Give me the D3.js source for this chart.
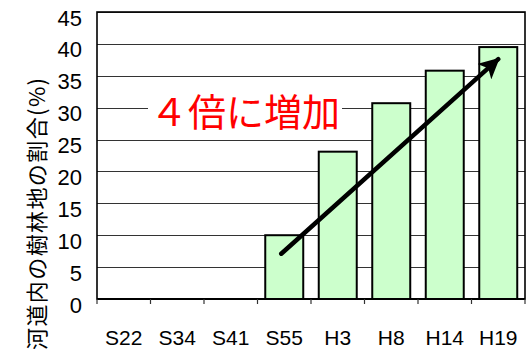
<!DOCTYPE html>
<html>
<head>
<meta charset="utf-8">
<script src="https://cdn.jsdelivr.net/npm/d3@7"></script>
<style>
  html, body { margin: 0; padding: 0; background: #fff; }
  svg { display: block; }
</style>
</head>
<body>
<svg id="chart" width="528" height="349"></svg>
<script>
// Survey years and share of forested area within the river channel (%)
const years = ["S22", "S34", "S41", "S55", "H3", "H8", "H14", "H19"];
const forestShare = [0, 0, 0, 10, 23.1, 30.7, 35.8, 39.5];
const yTicks = [0, 5, 10, 15, 20, 25, 30, 35, 40, 45];

// Trend arrow endpoints in data units: [category, value]
const trendStart = ["S55", 7.1];
const trendEnd = ["H19", 37.6];

const yTitle = "河道内の樹林地の割合(%)";
const note = "４倍に増加";

const svg = d3.select("#chart");
const margin = { left: 97, right: 3, top: 12, bottom: 50 };
const W = 528, H = 349;

const x = d3.scaleBand()
  .domain(years)
  .range([margin.left, W - margin.right])
  .paddingInner(0.29)
  .paddingOuter(0.145);

const xStep = d3.scaleBand().domain(years).range([margin.left, W - margin.right]);

const y = d3.scaleLinear().domain([0, 45]).range([H - margin.bottom, margin.top]);

const latin = "'Liberation Sans', Arial, sans-serif";
const cjk = "'Noto Sans CJK JP', sans-serif";

// Horizontal gridlines
svg.append("g")
  .selectAll("line")
  .data(yTicks)
  .join("line")
  .attr("x1", margin.left).attr("x2", W - margin.right)
  .attr("y1", d => Math.round(y(d)) + 0.5).attr("y2", d => Math.round(y(d)) + 0.5)
  .attr("stroke", "#333").attr("stroke-width", 1.2);

// Y tick labels
svg.append("g")
  .selectAll("text")
  .data(yTicks)
  .join("text")
  .attr("x", 82)
  .attr("y", d => y(d) + 6)
  .attr("text-anchor", "end")
  .attr("dominant-baseline", "central")
  .attr("font-family", latin)
  .attr("font-size", 22)
  .attr("fill", "#000")
  .text(d => d);

// Bars
svg.append("g")
  .selectAll("rect")
  .data(years.map((k, i) => ({ k, v: forestShare[i] })).filter(d => d.v > 0))
  .join("rect")
  .attr("x", d => x(d.k))
  .attr("y", d => y(d.v))
  .attr("width", x.bandwidth())
  .attr("height", d => y(0) - y(d.v))
  .attr("fill", "#ccffcc")
  .attr("stroke", "#000")
  .attr("stroke-width", 2);

// Plot frame
svg.append("rect")
  .attr("x", margin.left).attr("y", margin.top)
  .attr("width", W - margin.right - margin.left)
  .attr("height", y(0) - margin.top)
  .attr("fill", "none")
  .attr("stroke", "#000")
  .attr("stroke-width", 1.6);

// X axis with ticks at category boundaries
const xAxis = svg.append("g").attr("transform", `translate(0,${y(0)})`);
xAxis.append("line")
  .attr("x1", margin.left).attr("x2", W - margin.right)
  .attr("stroke", "#000").attr("stroke-width", 2);
const bounds = years.map(k => xStep(k)).concat([W - margin.right]);
xAxis.selectAll("line.tick")
  .data(bounds)
  .join("line")
  .attr("class", "tick")
  .attr("x1", d => d).attr("x2", d => d)
  .attr("y1", 0).attr("y2", 5)
  .attr("stroke", "#333").attr("stroke-width", 1.2);

svg.append("g")
  .selectAll("text")
  .data(years)
  .join("text")
  .attr("x", d => x(d) + x.bandwidth() / 2)
  .attr("y", 337)
  .attr("text-anchor", "middle")
  .attr("dominant-baseline", "central")
  .attr("font-family", latin)
  .attr("font-size", 21)
  .attr("fill", "#000")
  .text(d => d);

// Y axis title
svg.append("text")
  .attr("transform", "translate(35,214) rotate(-90)")
  .attr("text-anchor", "middle")
  .attr("dominant-baseline", "central")
  .attr("font-family", cjk)
  .attr("font-size", 22)
  .attr("textLength", 272)
  .attr("lengthAdjust", "spacing")
  .attr("fill", "#000")
  .text(yTitle);

// Annotation with white backing over the gridline
const noteG = svg.append("g");
const noteText = noteG.append("text")
  .attr("x", 150)
  .attr("y", 109)
  .attr("dominant-baseline", "central")
  .attr("font-family", cjk)
  .attr("font-size", 38)
  .attr("fill", "#ff0000")
  .text(note);
const bb = noteText.node().getBBox();
noteG.insert("rect", "text")
  .attr("x", bb.x - 2).attr("y", bb.y + 4)
  .attr("width", bb.width + 4).attr("height", bb.height - 8)
  .attr("fill", "#fff");

// Trend arrow
const defs = svg.append("defs");
defs.append("marker")
  .attr("id", "head")
  .attr("viewBox", "0 0 10 10")
  .attr("refX", 9).attr("refY", 5)
  .attr("markerWidth", 4.6).attr("markerHeight", 4.6)
  .attr("markerUnits", "strokeWidth")
  .attr("orient", "auto")
  .append("path")
  .attr("d", "M0,0 L10,5 L0,10 L2.5,5 Z")
  .attr("fill", "#000");

const cx = k => x(k) + x.bandwidth() / 2;
svg.append("line")
  .attr("x1", cx(trendStart[0]) - 3).attr("y1", y(trendStart[1]))
  .attr("x2", cx(trendEnd[0])).attr("y2", y(trendEnd[1]))
  .attr("stroke", "#000")
  .attr("stroke-width", 4.5)
  .attr("stroke-linecap", "round")
  .attr("marker-end", "url(#head)");
</script>
</body>
</html>
